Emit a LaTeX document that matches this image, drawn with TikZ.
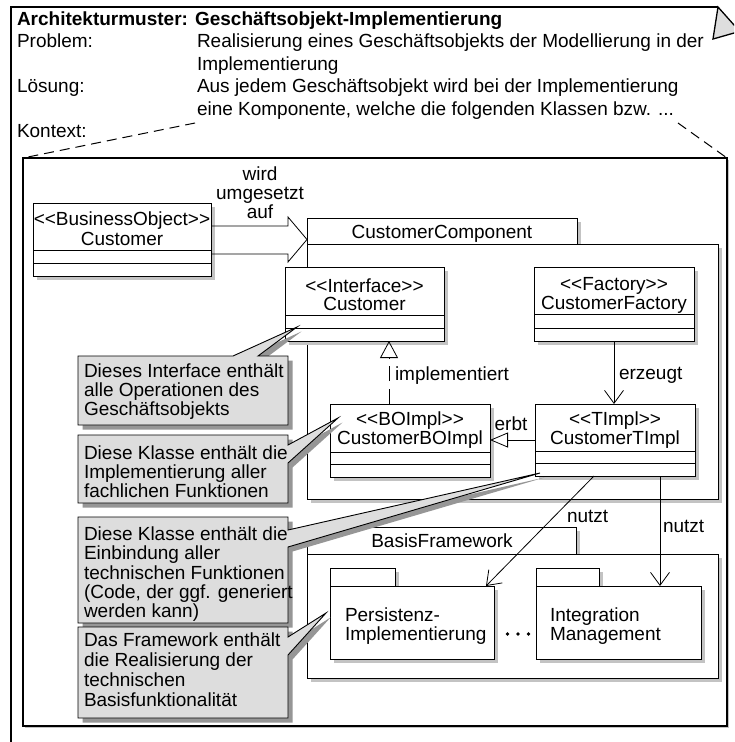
\documentclass[tikz,border=0pt]{standalone}
\usepackage{fontspec}
\setmainfont{Liberation Sans}[Ligatures=TeXOff]
\usetikzlibrary{arrows.meta,shadows,calc}
\definecolor{notefill}{RGB}{221,221,221}
\definecolor{noteshade}{RGB}{150,150,150}
\definecolor{boxshade}{RGB}{195,195,195}
\definecolor{foldfill}{RGB}{222,222,222}
\newcommand\umlfont{\fontsize{19}{19}\selectfont}

\begin{document}
\begin{tikzpicture}[x=1pt,y=-1pt,line join=miter,
  every node/.style={inner sep=0pt,outer sep=0pt,font=\umlfont},
  lbl/.style={anchor=base},
  lbll/.style={anchor=base west},
  umlbox/.style={draw,line width=0.9pt,fill=white,anchor=north west,
    drop shadow={opacity=1,fill=boxshade,shadow xshift=4pt,shadow yshift=-4pt}},
  frame/.style={draw,line width=1.4pt,fill=white,anchor=north west,
    drop shadow={opacity=1,fill=boxshade,shadow xshift=2pt,shadow yshift=-2pt}},
  notebox/.style={fill=notefill,draw,line width=0.9pt,
    drop shadow={opacity=1,fill=noteshade,shadow xshift=4.5pt,shadow yshift=-4.5pt}},
  notearea/.style={anchor=north west,minimum width=210pt},
  link/.style={line width=0.8pt},
  barb/.style={link,-{Straight Barb[length=13pt,width=19pt]}},
  ctxline/.style={line width=1pt,dash pattern=on 10pt off 6pt},
]

\useasboundingbox (0,0) rectangle (734,742);

% note frame with folded corner
\begin{scope}
  \clip (0,0) rectangle (734,742);
  \draw[line width=1.3pt] (11,750) -- (11,7) -- (718,7);
  \filldraw[fill=foldfill,line width=1.3pt] (718,7) -- (739.7,31.4) -- (713,39) -- cycle;
\end{scope}

% header text
\node[lbll,font=\umlfont\bfseries] (title) at (17,25.5) {Architekturmuster: Geschäftsobjekt-Implementierung};
\node[lbll] (hprob) at (17,47.5) {Problem:};
\node[lbll] (hprobA) at (197,47.5) {Realisierung eines Geschäftsobjekts der Modellierung in der};
\node[lbll] (hprobB) at (197,70) {Implementierung};
\node[lbll] (hsol) at (17,92.5) {Lösung:};
\node[lbll] (hsolA) at (197,92.5) {Aus jedem Geschäftsobjekt wird bei der Implementierung};
\node[lbll] (hsolB) at (197,115) {eine Komponente, welche die folgenden Klassen bzw. ...};
\node[lbll] (hctx) at (17,137.5) {Kontext:};

% context box
\node[frame,minimum width=704pt,minimum height=568pt] (ctx) at (23,158) {};
\coordinate (zl) at (195,123);
\coordinate (zr) at (678,123);
\draw[ctxline] (zl) -- (ctx.north west);
\draw[ctxline] (zr) -- (ctx.north east);

% package CustomerComponent
\node[umlbox,minimum width=270pt,minimum height=26pt] (cctab) at (307,218) {};
\node[umlbox,minimum width=411pt,minimum height=255pt] (cc) at (307,244) {};
\node[lbl] (cclabel) at (442,238) {CustomerComponent};

% package BasisFramework
\node[umlbox,minimum width=269pt,minimum height=27pt] (bftab) at (307,527) {};
\node[umlbox,minimum width=411pt,minimum height=124pt] (bf) at (307,554) {};
\node[lbl] (bflabel) at (442,547) {BasisFramework};

% business object
\node[umlbox,minimum width=178pt,minimum height=73pt] (bo) at (33,203) {};
\draw[link] ([yshift=-47pt]bo.north west) -- ([yshift=-47pt]bo.north east)
            ([yshift=-60pt]bo.north west) -- ([yshift=-60pt]bo.north east);
\node[lbl] (bost) at (122,225) {<<BusinessObject>>};
\node[lbl] (boname) at (122,245) {Customer};

% "wird umgesetzt auf" block arrow
\coordinate (tip) at (cctab.west |- bo.east);
\draw[link] ([yshift=13.5pt]bo.east) -- ([xshift=-19pt,yshift=13.5pt]tip)
  -- ([xshift=-19pt,yshift=22.5pt]tip) -- (tip)
  -- ([xshift=-19pt,yshift=-22.5pt]tip) -- ([xshift=-19pt,yshift=-14.5pt]tip)
  -- ([yshift=-14.5pt]bo.east);
\node[lbl] (mapA) at (260,180) {wird};
\node[lbl] (mapB) at (260,199) {umgesetzt};
\node[lbl] (mapC) at (260,218) {auf};

% classes inside the component
\node[umlbox,minimum width=159pt,minimum height=74pt] (iface) at (285,267) {};
\draw[link] ([yshift=-48pt]iface.north west) -- ([yshift=-48pt]iface.north east)
            ([yshift=-61pt]iface.north west) -- ([yshift=-61pt]iface.north east);
\node[lbl] (ifst) at (364.5,292) {<<Interface>>};
\node[lbl] (ifname) at (364.5,310) {Customer};

\node[umlbox,minimum width=160pt,minimum height=74pt] (fact) at (534,267) {};
\draw[link] ([yshift=-47pt]fact.north west) -- ([yshift=-47pt]fact.north east)
            ([yshift=-61pt]fact.north west) -- ([yshift=-61pt]fact.north east);
\node[lbl] (factst) at (614,290) {<<Factory>>};
\node[lbl] (factname) at (614,309) {CustomerFactory};

\node[umlbox,minimum width=160pt,minimum height=73pt] (boimpl) at (330,404) {};
\draw[link] ([yshift=-48pt]boimpl.north west) -- ([yshift=-48pt]boimpl.north east)
            ([yshift=-60pt]boimpl.north west) -- ([yshift=-60pt]boimpl.north east);
\node[lbl] (boimplst) at (410,425) {<<BOImpl>>};
\node[lbl] (boimplname) at (410,444) {CustomerBOImpl};

\node[umlbox,minimum width=160pt,minimum height=72pt] (timpl) at (535,404) {};
\draw[link] ([yshift=-47pt]timpl.north west) -- ([yshift=-47pt]timpl.north east)
            ([yshift=-59pt]timpl.north west) -- ([yshift=-59pt]timpl.north east);
\node[lbl] (timplst) at (615,425) {<<TImpl>>};
\node[lbl] (timplname) at (615,444) {CustomerTImpl};

% realisation, inheritance, creation
\draw[link,dash pattern=on 15pt off 8pt,-{Triangle[open,length=17pt,width=18pt]}]
  ([xshift=59pt]boimpl.north west) -- ([xshift=59pt]boimpl.north west |- iface.south);
\node[lbll] (implbl) at (395,380) {implementiert};
\draw[link,-{Triangle[open,length=18pt,width=15pt]}] (timpl.west) -- (timpl.west -| boimpl.east);
\node[lbl] (erbtlbl) at (511,430) {erbt};
\draw[barb] (fact.south) -- (fact.south |- timpl.north);
\node[lbll] (erzlbl) at (619,379) {erzeugt};

% framework packages
\node[umlbox,minimum width=65pt,minimum height=18pt] (pstab) at (330,568) {};
\node[umlbox,minimum width=164pt,minimum height=73pt] (ps) at (330,586) {};
\node[lbll] (psA) at (345,621) {Persistenz-};
\node[lbll] (psB) at (345,640) {Implementierung};
\node[umlbox,minimum width=63pt,minimum height=18pt] (intab) at (536,568) {};
\node[umlbox,minimum width=165pt,minimum height=73pt] (integ) at (536,586) {};
\node[lbll] (intA) at (550,621) {Integration};
\node[lbll] (intB) at (550,640) {Management};
\fill (507.5,634) circle (1.8pt) (518,634) circle (1.8pt) (528.5,634) circle (1.8pt);

% usage
\draw[barb] ([xshift=-21pt]timpl.south) -- ([xshift=-8pt]ps.north east);
\node[lbll] (nutzA) at (567,522) {nutzt};
\draw[barb] ([xshift=-35pt]timpl.south east) -- ([xshift=-35pt]timpl.south east |- integ.north);
\node[lbll] (nutzB) at (663,532) {nutzt};

% comments
\node[notearea,minimum height=69pt] (c1) at (78,356) {};
\coordinate (c1tip) at ($(iface.north west)+(12,60)$);
\filldraw[notebox] (c1.north west) -- ($(c1.north west)+(155,0)$) -- (c1tip)
  -- ($(c1.north west)+(180,0)$) -- (c1.north east) -- (c1.south east) -- (c1.south west) -- cycle;
\node[lbll] (c1a) at (84,377) {Dieses Interface enthält};
\node[lbll] (c1b) at (84,396) {alle Operationen des};
\node[lbll] (c1c) at (84,415) {Geschäftsobjekts};

\node[notearea,minimum height=68pt] (c2) at (78,435) {};
\coordinate (c2tip) at ($(boimpl.north west)+(8,14)$);
\filldraw[notebox] (c2.north west) -- (c2.north east) -- ($(c2.north east)+(0,10)$) -- (c2tip)
  -- ($(c2.north east)+(0,28)$) -- (c2.south east) -- (c2.south west) -- cycle;
\node[lbll] (c2a) at (84,459) {Diese Klasse enthält die};
\node[lbll] (c2b) at (84,478) {Implementierung aller};
\node[lbll] (c2c) at (84,497) {fachlichen Funktionen};

\node[notearea,minimum height=106pt] (c3) at (78,517) {};
\coordinate (c3tip) at ($(timpl.north west)+(5,69)$);
\filldraw[notebox] (c3.north west) -- (c3.north east) -- ($(c3.north east)+(0,13)$) -- (c3tip)
  -- ($(c3.north east)+(0,30)$) -- (c3.south east) -- (c3.south west) -- cycle;
\node[lbll] (c3a) at (84,540.5) {Diese Klasse enthält die};
\node[lbll] (c3b) at (84,559.8) {Einbindung aller};
\node[lbll] (c3c) at (84,579.1) {technischen Funktionen};
\node[lbll] (c3d) at (84,598.4) {(Code, der ggf. generiert};
\node[lbll] (c3e) at (84,617.7) {werden kann)};

\node[notearea,minimum height=91pt] (c4) at (78,627) {};
\coordinate (c4tip) at ($(ps.north west)+(-4,27)$);
\filldraw[notebox] (c4.north west) -- (c4.north east) -- ($(c4.north east)+(0,10)$) -- (c4tip)
  -- ($(c4.north east)+(0,28)$) -- (c4.south east) -- (c4.south west) -- cycle;
\node[lbll] (c4a) at (84,646) {Das Framework enthält};
\node[lbll] (c4b) at (84,666) {die Realisierung der};
\node[lbll] (c4c) at (84,686) {technischen};
\node[lbll] (c4d) at (84,706) {Basisfunktionalität};

\end{tikzpicture}
\end{document}
